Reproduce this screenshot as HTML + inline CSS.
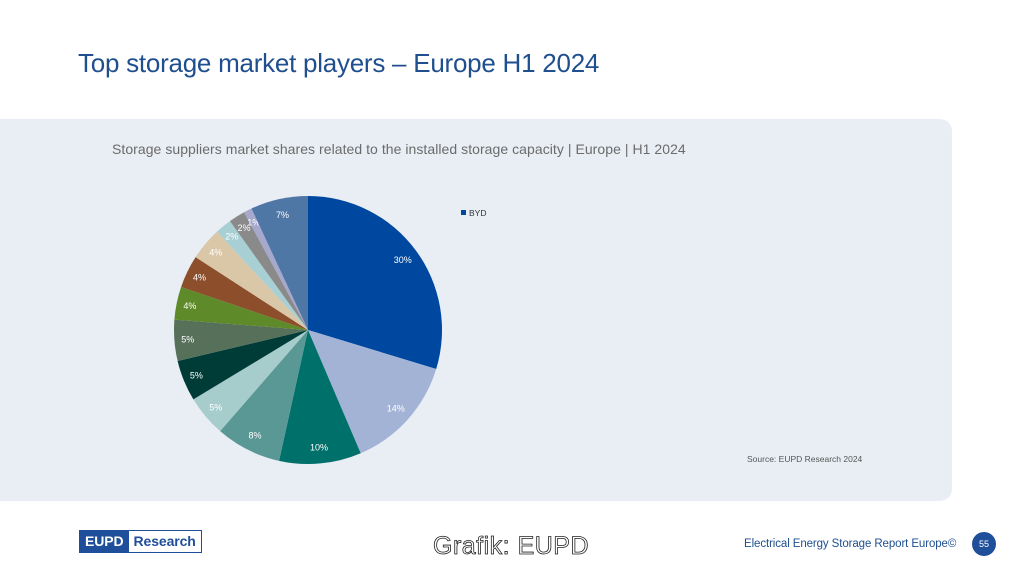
<!DOCTYPE html>
<html><head><meta charset="utf-8"><style>
body{margin:0;width:1030px;height:579px;background:#fff;position:relative;overflow:hidden;font-family:"Liberation Sans",sans-serif}
.t{position:absolute;left:78px;top:48px;font-size:26px;color:#1f4f8e;letter-spacing:-0.25px}
.panel{position:absolute;left:0;top:119px;width:952px;height:382px;background:#e9eef4;border-radius:0 12px 12px 0}
.sub{position:absolute;left:112px;top:141px;font-size:14px;color:#6b6b6b;letter-spacing:0.05px}
.src{position:absolute;left:747px;top:454px;font-size:8.5px;color:#555}
.logo{position:absolute;left:79px;top:530px;height:21px;border:1.5px solid #1f4f9a;display:flex;font-size:14px;font-weight:bold;letter-spacing:-0.1px}
.logo span:first-child{background:#1f4f9a;color:#fff;padding:0 5px;line-height:21px}
.logo span:last-child{color:#1f4f9a;padding:0 5px;line-height:21px;background:#fff}
.g{position:absolute;left:433px;top:532px;font-size:25px;color:#fff;-webkit-text-stroke:0.8px #222;letter-spacing:0.5px}
.er{position:absolute;left:744px;top:538px;font-size:11.5px;color:#1f4f8e;letter-spacing:-0.1px}
.pn{position:absolute;left:972px;top:532px;width:24px;height:24px;border-radius:50%;background:#1f4f9a;color:#fff;font-size:9px;text-align:center;line-height:24px}
</style></head><body>
<div class="t">Top storage market players – Europe H1 2024</div>
<div class="panel"></div>
<div class="sub">Storage suppliers market shares related to the installed storage capacity | Europe | H1 2024</div>
<svg id="p" width="1030" height="579" style="position:absolute;left:0;top:0"></svg>
<div class="src">Source: EUPD Research 2024</div>
<div class="logo"><span>EUPD</span><span>Research</span></div>
<div class="g">Grafik: EUPD</div>
<div class="er">Electrical Energy Storage Report Europe©</div>
<div class="pn">55</div>
<script>
var d=[[30,"#0047a0"],[14,"#a3b3d6"],[10,"#00706a"],[8,"#5a9896"],[5,"#a7cccc"],[5,"#003c37"],[5,"#56705a"],[4,"#5e8a2a"],[4,"#8d4f2b"],[4,"#d9c7a8"],[2,"#a8cfd4"],[2,"#8a8a8a"],[1,"#a6a8cc"],[7,"#4f77a6"]];
var cx=308,cy=330,r=134,a=0,s="",tot=101;
d.forEach(function(e){var a2=a+e[0]/tot*2*Math.PI;
var x1=cx+r*Math.sin(a),y1=cy-r*Math.cos(a),x2=cx+r*Math.sin(a2),y2=cy-r*Math.cos(a2);
s+='<path d="M'+cx+','+cy+'L'+x1+','+y1+'A'+r+','+r+' 0 '+(a2-a>Math.PI?1:0)+' 1 '+x2+','+y2+'Z" fill="'+e[1]+'"/>';
var m=(a+a2)/2,lr=e[0]>=7?r*0.88:r*0.9;
s+='<text x="'+(cx+lr*Math.sin(m))+'" y="'+(cy-lr*Math.cos(m)+3)+'" font-size="9" fill="#fff" text-anchor="middle" font-family="Liberation Sans">'+e[0]+'%</text>';
a=a2;});
s+='<rect x="461" y="210" width="5" height="5" fill="#0047a0"/><text x="469" y="216" font-size="8.5" fill="#333" font-family="Liberation Sans">BYD</text>';
document.getElementById('p').innerHTML=s;
</script>
</body></html>
